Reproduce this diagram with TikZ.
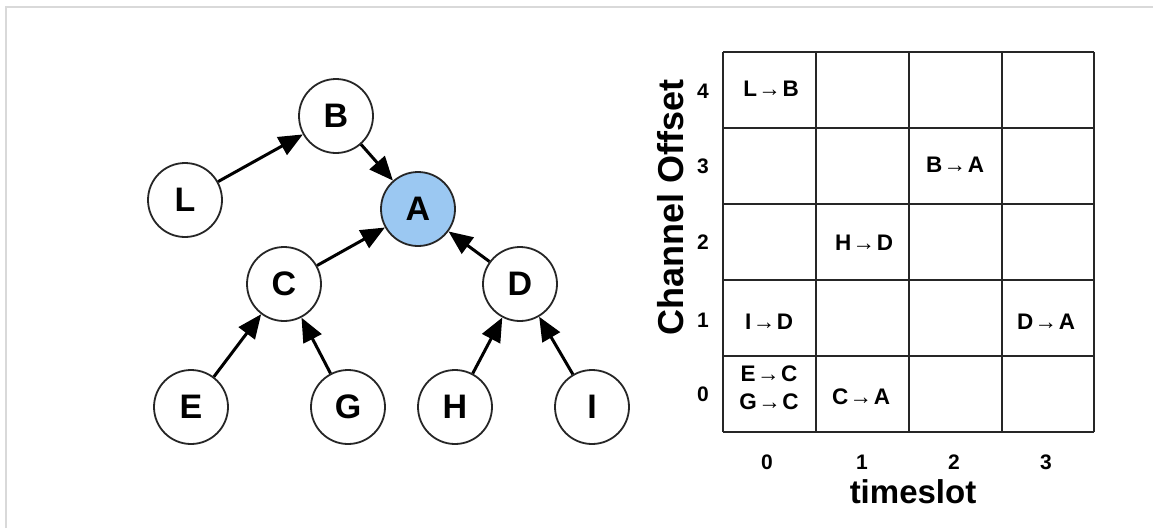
\documentclass[tikz,border=0pt]{standalone}
\usepackage{fontspec}
\setmainfont{Liberation Sans}
\usetikzlibrary{arrows.meta}
\definecolor{nodeblue}{RGB}{155,200,242}
\newcommand{\ar}{\kern1.5pt→\kern1.5pt}
\begin{document}
\begin{tikzpicture}[x=1pt,y=-1pt,
  vert/.style={circle,draw=black!85,line width=1.8pt,minimum size=74pt,inner sep=0pt,fill=white,font=\fontsize{34}{36}\selectfont\bfseries},
  edge/.style={line width=3pt,-{Triangle[length=24pt,width=20pt]}},
  cell/.style={font=\fontsize{22.5}{24}\selectfont\bfseries,align=center,inner sep=0pt},
  tick/.style={font=\fontsize{21}{23}\selectfont\bfseries,inner sep=0pt},
  axislabel/.style={font=\fontsize{33}{35}\selectfont\bfseries,inner sep=0pt},
  gridline/.style={line width=2.4pt,black!85}]
\useasboundingbox (0,0) rectangle (1153,528);
\fill[white] (0,0) rectangle (1153,528);
\draw[gray!30,line width=1.5pt] (6,528) -- (6,7) -- (1153,7);
% tree
\node[vert] (B) at (336,116) {B};
\node[vert] (L) at (185,200) {L};
\node[vert,fill=nodeblue] (A) at (418,209) {A};
\node[vert] (C) at (284,284) {C};
\node[vert] (D) at (520,284) {D};
\node[vert] (E) at (191,407) {E};
\node[vert] (G) at (348,407) {G};
\node[vert] (H) at (455,407) {H};
\node[vert] (I) at (592,407) {I};
\draw[edge] (L) -- (B);
\draw[edge] (B) -- (A);
\draw[edge] (C) -- (A);
\draw[edge] (D) -- (A);
\draw[edge] (E) -- (C);
\draw[edge] (G) -- (C);
\draw[edge] (H) -- (D);
\draw[edge] (I) -- (D);
% grid
\foreach \x in {723,816,909,1002,1094} \draw[gridline] (\x,52) -- (\x,432);
\foreach \y in {52,128,204,280,356,432} \draw[gridline] (723,\y) -- (1094,\y);
% row ticks
\node[tick] (r4) at (703,91) {4};
\node[tick] (r3) at (703,166) {3};
\node[tick] (r2) at (703,242) {2};
\node[tick] (r1) at (703,320) {1};
\node[tick] (r0) at (703,394) {0};
% column ticks
\node[tick] (c0) at (767,462) {0};
\node[tick] (c1) at (862,462) {1};
\node[tick] (c2) at (954,462) {2};
\node[tick] (c3) at (1046,462) {3};
% axis labels
\node[axislabel,font=\fontsize{36}{38}\selectfont\bfseries,rotate=90] (ylab) at (671,207) {Channel Offset};
\node[axislabel] (xlab) at (913,492) {timeslot};
% cell contents
\node[cell] (lb) at (771,89) {L\ar B};
\node[cell] (ba) at (955,165) {B\ar A};
\node[cell] (hd) at (864,243) {H\ar D};
\node[cell] (id) at (769,322) {I\ar D};
\node[cell] (da) at (1046,322) {D\ar A};
\node[cell] (ec) at (769,374) {E\ar C};
\node[cell] (gc) at (769,402) {G\ar C};
\node[cell] (ca) at (861,397) {C\ar A};
\end{tikzpicture}
\end{document}
